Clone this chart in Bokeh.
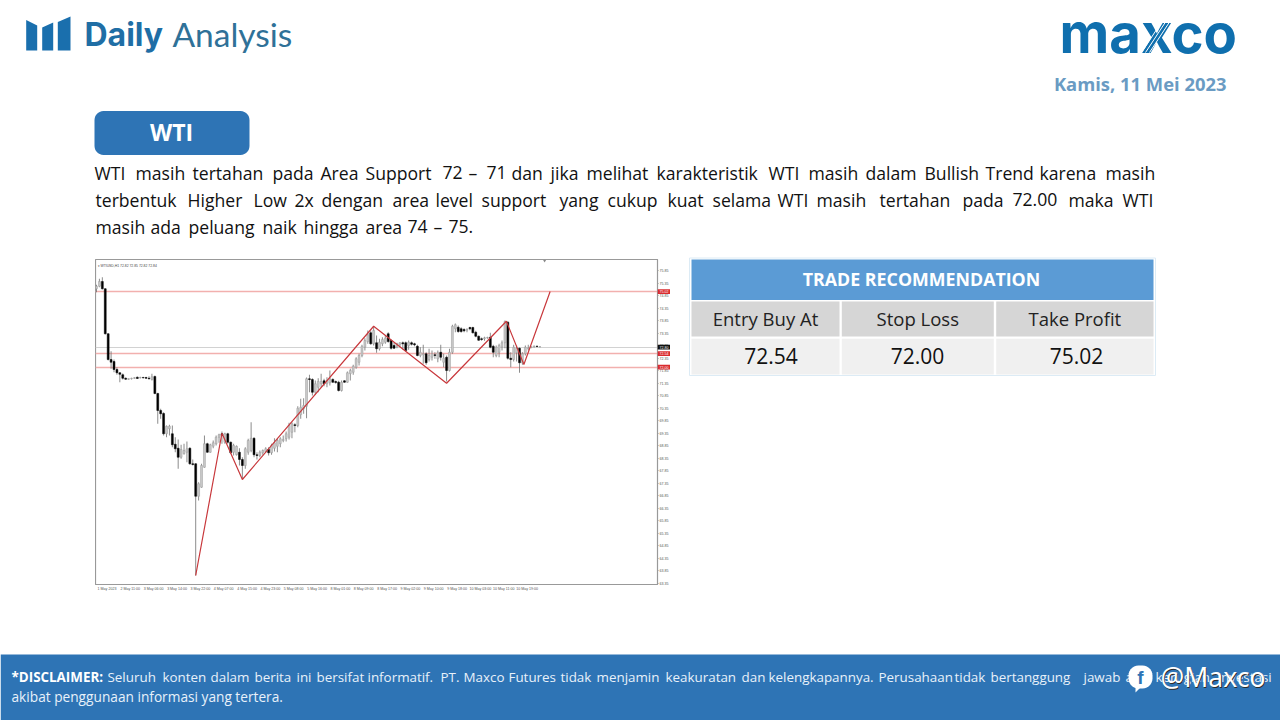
from bokeh.plotting import figure
from bokeh.embed import file_html
from bokeh.resources import INLINE
from bokeh.models import Range1d, Label, FixedTicker
from bokeh.core.properties import value
import numpy as np

# ---------- chart data (WTI H1 candles) ----------
opens = [75.13,75.23,75.42,75.13,73.33,72.30,72.22,71.90,71.77,71.69,71.55,71.51,71.53,71.55,71.59,71.57,71.58,71.58,71.55,71.50,
71.62,70.94,70.26,70.14,69.33,69.53,69.33,68.91,68.75,68.39,68.53,68.59,68.75,68.13,68.13,66.83,67.19,67.99,68.93,68.59,
68.83,68.93,69.19,69.33,68.99,69.33,68.99,68.59,68.49,68.59,68.30,68.06,68.59,68.66,69.15,68.49,68.46,68.57,68.62,68.70,
68.57,68.75,68.83,68.93,69.06,69.13,69.19,69.39,69.69,69.66,70.09,70.33,70.43,71.53,71.50,70.99,71.19,71.33,71.45,71.33,
71.37,71.50,71.42,71.39,71.06,71.45,71.39,71.73,71.79,71.99,72.19,72.46,72.79,73.02,73.37,72.93,72.97,72.73,72.93,72.99,
73.33,73.06,72.86,72.83,72.89,72.97,72.97,72.86,72.97,72.93,72.83,72.46,72.49,72.53,72.30,72.39,72.49,72.33,72.59,72.19,
72.39,71.86,72.59,73.53,73.59,73.53,73.50,73.47,73.58,73.58,73.39,73.23,73.13,73.13,73.17,73.19,72.83,72.46,72.59,72.79,
72.97,73.79,72.35,72.30,72.57,72.75,72.17,72.53,72.73,72.78,72.81,72.83,72.81]
highs = [75.29,75.53,75.59,75.15,73.35,72.63,72.30,71.99,71.79,71.74,71.58,71.54,71.57,71.59,71.62,71.61,71.61,71.61,71.63,71.73,
71.66,70.97,70.33,70.19,69.66,69.69,69.66,69.19,69.10,68.89,68.93,69.02,68.79,68.30,68.15,67.39,68.13,69.26,68.97,68.93,
69.06,69.26,69.33,69.42,69.37,69.37,69.02,68.93,68.86,68.75,68.39,68.79,69.13,69.79,69.19,68.59,68.66,68.70,68.79,68.79,
68.93,69.15,69.13,69.19,69.26,69.42,69.77,69.79,69.75,70.43,70.73,70.75,71.58,71.69,71.55,71.46,71.55,71.73,71.53,71.59,
71.86,71.55,71.46,71.45,71.46,71.47,71.82,71.93,72.09,72.39,72.53,72.89,73.15,73.46,73.46,73.63,73.26,73.13,73.19,73.26,
73.39,73.10,72.97,72.97,72.99,73.02,73.02,73.06,73.02,72.97,72.89,72.79,72.89,72.59,72.73,72.66,72.59,72.66,72.89,72.53,
72.46,72.73,73.69,73.74,73.66,73.59,73.55,73.55,73.61,73.61,73.45,73.26,73.18,73.21,73.21,73.37,72.89,72.86,72.93,73.06,
73.86,73.83,72.59,72.89,72.86,72.78,72.59,72.86,72.89,72.83,72.86,72.86,72.83]
lows = [74.99,75.19,75.10,73.30,72.26,71.93,71.79,71.69,71.39,71.50,71.49,71.49,71.50,71.53,71.53,71.54,71.54,71.53,71.50,71.46,
70.91,69.73,69.93,69.26,69.19,69.26,68.79,68.59,67.93,68.33,68.50,68.19,68.09,68.06,63.66,66.66,67.17,67.97,68.57,68.57,
68.75,68.86,68.97,68.93,68.93,68.93,68.53,68.46,68.46,68.06,67.53,67.93,68.49,68.59,68.39,68.30,68.39,68.49,68.57,68.46,
68.49,68.62,68.59,68.79,68.99,69.02,69.10,69.15,69.39,69.59,69.93,70.13,69.95,70.99,70.86,70.89,70.99,71.19,71.23,71.19,
71.26,71.37,71.33,71.02,71.02,71.37,71.37,71.46,71.69,71.93,72.06,72.39,72.66,72.93,72.89,72.86,72.57,72.66,72.83,72.93,
72.97,72.70,72.73,72.75,72.79,72.70,72.62,72.69,72.86,72.83,72.43,72.39,72.13,72.09,72.22,72.26,72.33,72.19,72.26,71.99,
71.42,71.82,72.53,73.39,73.37,73.37,73.39,73.39,73.47,73.34,73.19,73.05,73.05,73.05,73.13,72.75,72.39,72.39,72.39,72.66,
72.75,72.30,71.99,72.22,72.22,71.77,72.09,72.46,72.66,72.75,72.78,72.79,72.79]
closes = [75.23,75.42,75.13,73.33,72.30,72.19,71.90,71.77,71.71,71.55,71.51,71.53,71.55,71.57,71.54,71.58,71.57,71.55,71.53,71.61,
70.94,70.26,70.13,69.33,69.63,69.63,68.89,68.73,68.39,68.70,68.66,68.73,68.13,68.10,66.83,67.33,68.06,68.93,68.59,68.89,
68.97,69.19,69.29,69.26,69.33,68.99,68.57,68.86,68.83,68.30,68.06,68.73,69.06,69.15,68.49,68.46,68.59,68.66,68.73,68.57,
68.86,68.97,69.06,69.13,69.10,69.33,69.66,69.73,69.66,70.35,70.39,70.46,71.53,71.50,70.99,71.33,71.42,71.42,71.33,71.46,
71.53,71.39,71.38,71.06,71.39,71.39,71.77,71.86,72.03,72.33,72.46,72.83,73.06,73.29,72.93,73.46,72.73,72.99,73.10,73.15,
73.02,72.75,72.75,72.93,72.97,72.93,72.66,72.99,72.91,72.89,72.46,72.59,72.53,72.17,72.46,72.53,72.46,72.57,72.39,72.35,
71.86,72.59,73.63,73.69,73.42,73.42,73.45,73.50,73.53,73.37,73.23,73.07,73.10,73.17,73.18,72.79,72.59,72.79,72.86,72.97,
73.82,72.35,72.30,72.79,72.75,72.17,72.53,72.79,72.75,72.81,72.83,72.82,72.81]

zigzag_bar = [34, 43, 50, 95, 120, 140.5, 146.5, 155.5]
zigzag_price = [63.66, 69.35, 67.50, 73.63, 71.35, 73.83, 72.10, 75.02]

level_take_profit = 75.02
level_entry = 72.54
level_stop = 72.00
level_last = 72.80

price_ticks = [75.85,75.35,74.85,74.35,73.85,73.35,72.85,72.35,71.85,71.35,70.85,70.35,69.85,69.35,68.85,68.35,
               67.85,67.35,66.85,66.35,65.85,65.35,64.85,64.35,63.85,63.35]
date_ticks = [0,8,16,24,32,40,48,56,64,72,80,88,96,104,112,120,128,136,144]
date_labels = ["1 May 2023","2 May 11:00","3 May 06:00","3 May 14:00","3 May 22:00","4 May 07:00","4 May 15:00",
               "4 May 23:00","5 May 08:00","5 May 16:00","8 May 01:00","8 May 09:00","8 May 17:00","9 May 02:00",
               "9 May 10:00","9 May 18:00","10 May 03:00","10 May 11:00","10 May 19:00"]

table_headers = ["Entry Buy At", "Stop Loss", "Take Profit"]
table_values = ["72.54", "72.00", "75.02"]

# ---------- the candlestick chart ----------
chart = figure(frame_width=562, frame_height=325, x_range=Range1d(-0.343, 192.3), y_range=Range1d(63.30, 76.30),
               y_axis_location="right", toolbar_location=None, output_backend="svg",
               min_border_left=0, min_border_top=0, min_border_right=12, min_border_bottom=9)
chart.grid.visible = False
chart.outline_line_color = "#999999"
chart.outline_line_width = 1.2
for ax in (chart.xaxis[0], chart.yaxis[0]):
    ax.axis_line_color = "#999999"
    ax.major_tick_line_color = "#999999"
    ax.major_tick_out = 1
    ax.major_tick_in = 0
    ax.minor_tick_line_color = None
    ax.major_label_text_font = "Liberation Sans"
    ax.major_label_text_font_size = "3.6px"
    ax.major_label_text_color = "#555555"
    ax.major_label_standoff = 1
chart.yaxis[0].ticker = FixedTicker(ticks=price_ticks)
chart.yaxis[0].major_label_overrides = {t: f"{t:.2f}" for t in price_ticks}
chart.xaxis[0].ticker = FixedTicker(ticks=[t + 3.6 for t in date_ticks])
chart.xaxis[0].major_label_overrides = {t + 3.6: l for t, l in zip(date_ticks, date_labels)}
chart.xaxis[0].major_tick_line_color = None

bars = np.arange(len(closes))
o, h, l, c = map(np.array, (opens, highs, lows, closes))
up = c >= o
chart.hspan(y=[level_last], line_color="#d2d2d2", line_width=1)
chart.hspan(y=[level_entry, level_stop, level_take_profit], line_color="#f2b0ae", line_width=1.6)
chart.segment(bars, h, bars, l, line_color="#6f6f6f", line_width=0.8)
chart.vbar(bars[up], 0.66, o[up], c[up], fill_color="#c9c9c9", line_color="#9a9a9a", line_width=0.5)
chart.vbar(bars[~up], 0.66, c[~up], o[~up], fill_color="#000000", line_color="#000000", line_width=0.5)
chart.line(zigzag_bar, zigzag_price, line_color="#c8383c", line_width=1.2)
chart.scatter([153.6], [76.25], marker="inverted_triangle", size=3, fill_color="#888888", line_color=None)

chart.add_layout(Label(x=2, y=319, x_units="screen", y_units="screen", text="▾ WTIUSD,H1  72.82 72.85 72.82 72.84",
                       text_font="Liberation Sans", text_font_size="3.4px", text_color="#444444", text_baseline="middle"))
chart.styles = {"position": "absolute", "left": "95px", "top": "259px"}

# price tags to the right of the frame, sharing the chart's price scale
tag_prices = [level_take_profit, level_entry, level_stop, level_last]
tag_colors = ["#d92b2f", "#d92b2f", "#d92b2f", "#111111"]
tags = figure(width=13, height=325, x_range=Range1d(0, 1), y_range=chart.y_range, toolbar_location=None,
              output_backend="svg", min_border=0, background_fill_color=None, border_fill_color=None)
tags.axis.visible = False
tags.grid.visible = False
tags.outline_line_color = None
tags.rect([0.5] * 4, tag_prices, width=1, height=0.19, fill_color=tag_colors, line_color=None)
tags.text([0.5] * 4, tag_prices, text=[f"{t:.2f}" for t in tag_prices], text_font=value("Liberation Sans"),
          text_font_size="3.6px", text_color="#ffffff", text_align="center", text_baseline="middle")
tags.styles = {"position": "absolute", "left": "657px", "top": "259px"}

# ---------- the slide around it ----------
BLUE = "#2e74b5"
slide = figure(width=1280, height=720, x_range=Range1d(0, 1280), y_range=Range1d(720, 0),
               toolbar_location=None, output_backend="svg", min_border=0)
slide.axis.visible = False
slide.grid.visible = False
slide.outline_line_color = None
slide.styles = {"position": "absolute", "left": "0px", "top": "0px"}


def txt(x, y, s, size, color="#111111", font="Open Sans", bold=False, align="left"):
    slide.text([x], [y], text=[s], text_font=value(font), text_font_size=f"{size}px", text_color=color,
               text_align=align, text_baseline="middle", text_font_style="bold" if bold else "normal")


def words(y, items, size, color="#111111"):
    xs = [a for a, _ in items]
    ss = [b for _, b in items]
    slide.text(xs, [y] * len(xs), text=ss, text_font=value("Open Sans"), text_font_size=f"{size}px",
               text_color=color, text_baseline="middle")


def rounded(x0, y0, x1, y1, r):
    t = np.linspace(0, np.pi / 2, 8)
    xs = np.concatenate([x1 - r + r * np.sin(t), x1 - r + r * np.cos(t), x0 + r - r * np.sin(t), x0 + r - r * np.cos(t)])
    ys = np.concatenate([y0 + r - r * np.cos(t), y1 - r + r * np.sin(t), y1 - r + r * np.cos(t), y0 + r - r * np.sin(t)])
    return xs, ys


# header
slide.patches([[25.7, 36.7, 36.7, 25.7], [41.7, 52.7, 52.7, 41.7], [57.3, 70, 70, 57.3]],
              [[19.5, 25, 50, 50], [27, 22, 50, 50], [21.5, 16, 50, 50]], fill_color="#1a6fad", line_color=None)
txt(84, 33.5, "Daily", 32, "#1f6ea5", "Inter", True)
txt(172, 33.5, "Analysis", 33.5, "#2f7198", "Lato")
txt(1059, 32, "maxco", 54.5, "#0f6fae", "Inter", True)
slide.segment([1141, 1145, 1149], [52, 52, 52], [1162, 1166, 1170], [20, 20, 20], line_color="#ffffff", line_width=1)
txt(1226, 83, "Kamis, 11 Mei 2023", 18.4, "#6a9bc3", "Open Sans", True, "right")

# title button
bx, by = rounded(94, 110.5, 249, 154.5, 9)
slide.patch(bx, by, fill_color=BLUE, line_color=None)
txt(171, 131.5, "WTI", 23, "#ffffff", "Open Sans", True, "center")

# body text, justified word by word
words(172, [(94,"WTI"),(135,"masih"),(192,"tertahan"),(272,"pada"),(320,"Area"),(365,"Support"),(442,"72"),(468,"–"),(486,"71"),
            (511,"dan"),(550,"jika"),(586,"melihat"),(656,"karakteristik"),(768,"WTI"),(808,"masih"),(865,"dalam"),
            (924,"Bullish"),(985,"Trend"),(1039,"karena"),(1105,"masih")], 17.6)
words(199, [(95,"terbentuk"),(187,"Higher"),(253,"Low"),(294,"2x"),(321,"dengan"),(392,"area"),(435,"level"),(481,"support"),
            (559,"yang"),(607,"cukup"),(667,"kuat"),(712,"selama"),(777,"WTI"),(816,"masih"),(879,"tertahan"),(962,"pada"),
            (1012,"72.00"),(1068,"maka"),(1122,"WTI")], 17.6)
words(226, [(95,"masih"),(150,"ada"),(188,"peluang"),(262,"naik"),(303,"hingga"),(365,"area"),(407,"74"),(433,"–"),(448,"75.")], 17.6)

# table
slide.quad(left=[689], right=[1155], top=[257.5], bottom=[375], fill_color="#ffffff", line_color="#dcebf5", line_width=1)
slide.quad(left=[691], right=[1153], top=[259], bottom=[299.5], fill_color="#5b9bd5", line_color=None)
col_left = [691, 841.3, 995.7]
col_right = [839, 993.3, 1153]
slide.quad(left=col_left, right=col_right, top=[301] * 3, bottom=[336] * 3, fill_color="#d6d6d6", line_color=None)
slide.quad(left=col_left, right=col_right, top=[338.3] * 3, bottom=[374] * 3, fill_color="#f0f0f0", line_color=None)
txt(921, 278, "TRADE RECOMMENDATION", 17.8, "#ffffff", "Open Sans", True, "center")
for a, b, head in zip(col_left, col_right, table_headers):
    txt((a + b) / 2, 318, head, 18.5, "#222222", "Open Sans", False, "center")
for xc, val in zip([770.5, 917, 1076], table_values):
    txt(xc, 355.5, val, 21, "#111111", "Open Sans", False, "center")

# footer
slide.quad(left=[0], right=[1280], top=[654], bottom=[720], fill_color=BLUE, line_color=None)
txt(11, 676, "*DISCLAIMER:", 13.4, "#ffffff", "Open Sans", True)
words(676, [(107,"Seluruh"),(162,"konten"),(210,"dalam"),(254,"berita"),(296,"ini"),(316,"bersifat"),(367,"informatif."),
            (440,"PT."),(463,"Maxco"),(508,"Futures"),(560,"tidak"),(596,"menjamin"),(665,"keakuratan"),(741,"dan"),
            (768,"kelengkapannya."),(878,"Perusahaan"),(954,"tidak"),(990,"bertanggung"),(1083,"jawab"),(1125,"atas"),
            (1155,"kerugian"),(1217,"investasi")], 13.4, "#e8f1fa")
txt(11, 696, "akibat penggunaan informasi yang tertera.", 13.7, "#e8f1fa")

# social tag over the footer
fx, fy = rounded(1128, 665, 1152, 688, 10)
slide.patch(fx, fy, fill_color="#ffffff", line_color=None)
slide.patch([1135, 1141, 1135], [685, 686, 692], fill_color="#ffffff", line_color=None)
txt(1140, 677, "f", 19, BLUE, "Liberation Sans", True, "center")
txt(1160.8, 677.3, "@Maxco", 26.5, "#2a2a2a", "Noto Sans")
txt(1160, 676.5, "@Maxco", 26.5, "#ffffff", "Noto Sans")

open("out.html", "w").write(file_html([slide, chart, tags], INLINE))
